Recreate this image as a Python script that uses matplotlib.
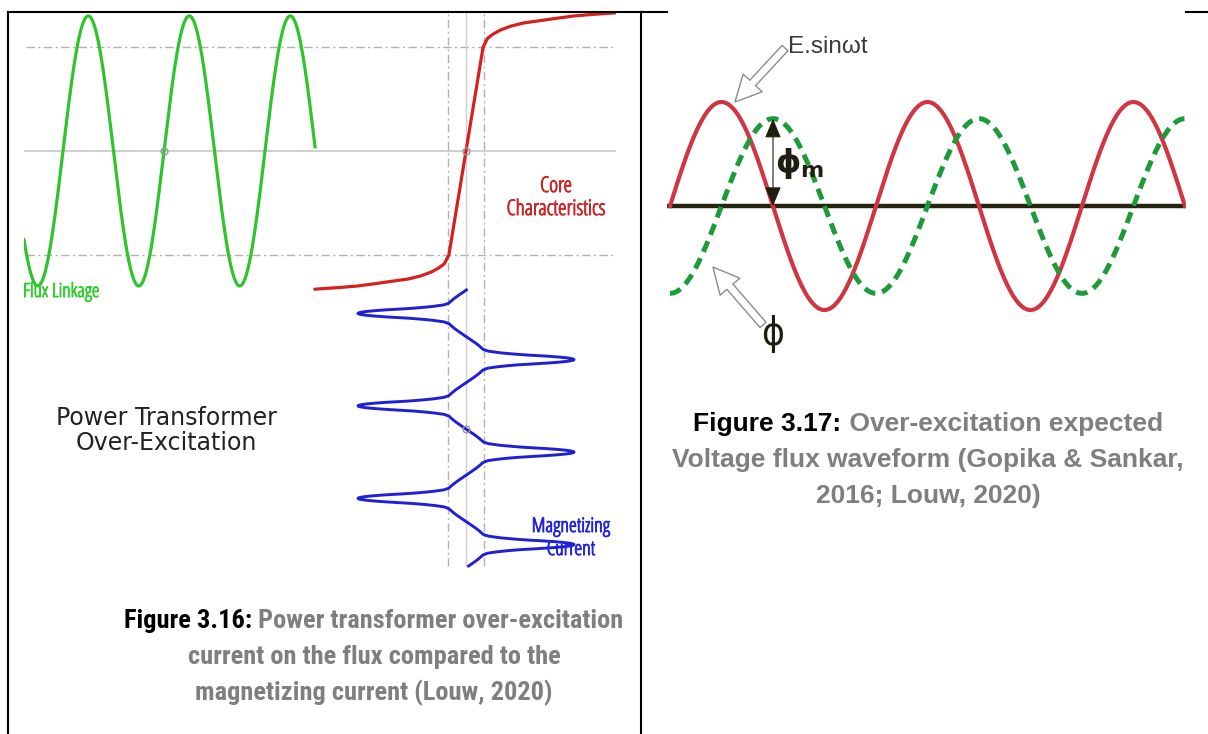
import numpy as np
import matplotlib
matplotlib.use("Agg")
import matplotlib.pyplot as plt
from matplotlib import transforms as mtransforms
from matplotlib import patheffects
from matplotlib.lines import Line2D
from matplotlib.patches import FancyArrowPatch

W, H = 1208, 734

# ---- Figure 3.16: flux linkage, core characteristic, magnetizing current ----
# positive branch of the core characteristic (current in knee units, flux in p.u.)
core_current = [0.0, 0.95, 1.2, 1.5, 1.9, 2.5, 3.2, 4.0, 5.0, 6.0, 7.0, 8.4]
core_flux = [0.0, 0.77, 0.835, 0.865, 0.895, 0.925, 0.948, 0.963, 0.982, 1.0, 1.011, 1.024]
flux_peak = 1.0
knee_flux = 0.77
knee_current = 1.0
flux_window = [-1.386, 1.495]      # cycles of flux linkage shown
current_window = [-1.503, 1.481]   # cycles of magnetizing current shown

# ---- Figure 3.17: voltage and flux waveforms ----
voltage_peak = 1.0
phi_peak = 0.84
half_cycles = 5

caption_316 = ["current on the flux compared to the", "magnetizing current (Louw, 2020)"]
caption_317 = ["Voltage flux waveform (Gopika & Sankar,", "2016; Louw, 2020)"]


def px_rect(x0, y0, x1, y1):
    return [x0 / W, 1 - y1 / H, (x1 - x0) / W, (y1 - y0) / H]


fig = plt.figure(figsize=(W / 100, H / 100), dpi=100)
px = mtransforms.Affine2D().scale(1 / W, -1 / H).translate(0, 1) + fig.transFigure


def label(x, y, s, color, size=15.5, ha="center"):
    # very narrow schematic labels
    fig.text(x, y, s, transform=px, family="Open Sans", stretch="condensed",
             weight="light", fontsize=size, color=color, ha=ha, va="baseline",
             path_effects=[patheffects.withStroke(linewidth=0.7, foreground=color)])


# table borders
for xs, ys in [((8, 8), (12, 734)), ((641, 641), (12, 734)),
               ((8, 667), (12, 12)), ((1186, 1208), (12, 12))]:
    fig.add_artist(Line2D(xs, ys, transform=px, color="black", lw=1.5, zorder=5))

# ---------------- left panel ----------------
rect = px_rect(24, 10, 616, 568)
ax_core = fig.add_axes(rect, label="core")
ax_flux = fig.add_axes(rect, label="flux", sharey=ax_core)
ax_mag = fig.add_axes(rect, label="mag", sharex=ax_core)
for a in (ax_core, ax_flux, ax_mag):
    a.set_axis_off()
    a.patch.set_visible(False)

ax_core.set_xlim(-24.556, 8.333)
ax_core.set_ylim(-3.089, 1.044)
ax_flux.set_xlim(-1.386, 4.475)
ax_mag.set_ylim(1.503, -4.530)

guide = dict(color="#b2b2b2", lw=1.0, ls=(0, (6, 2.5, 1.5, 2.5)))
ax_core.axhline(0, xmin=0.0, color="#cfcfcf", lw=1.4)
for f in (knee_flux, -knee_flux):
    ax_core.axhline(f, xmin=0.004, **guide)
for c in (knee_current, -knee_current):
    ax_core.axvline(c, ymin=0.004, **guide)
ax_core.axvline(0, ymin=0.004, color="#cfcfcf", lw=1.0)

cur = np.array(core_current)
fl = np.array(core_flux)
branch_i = np.concatenate([-cur[::-1], cur[1:]])
branch_f = np.concatenate([-fl[::-1], fl[1:]])
ax_core.plot(branch_i, branch_f, color="#d81f1f", lw=2.3, solid_capstyle="round")

t = np.linspace(flux_window[0], flux_window[1], 800)
ax_flux.plot(t, flux_peak * np.sin(2 * np.pi * t), color="#2ec42e", lw=2.3)

# magnetizing current: flux linkage mapped through the core characteristic
tm = np.linspace(current_window[0], current_window[1], 3000)
i_mag = np.interp(flux_peak * np.sin(2 * np.pi * tm), branch_f, branch_i)
ax_mag.plot(i_mag, tm, color="#1f1fd8", lw=2.1)

ring = dict(marker="o", ms=5, mfc="none", mec="#9a9a9a", mew=1.0)
ax_flux.plot([0], [0], **ring)
ax_core.plot([0], [0], **ring)
ax_mag.plot([0], [0], **ring)

label(23, 297, "Flux Linkage", "#33cc33", size=14, ha="left")
label(556, 192, "Core", "#c82828")
label(556, 215, "Characteristics", "#c82828")
label(571, 532, "Magnetizing", "#2424dd", size=14.5)
label(571, 555, "Current", "#2424dd", size=14.5)
fig.text(166, 418, "Power Transformer", transform=px, fontsize=17,
         color="#222222", ha="center", va="center")
fig.text(166, 443, "Over-Excitation", transform=px, fontsize=17,
         color="#222222", ha="center", va="center")

# ---------------- right panel ----------------
ax_r = fig.add_axes(px_rect(667, 10, 1186, 360), label="wave")
ax_r.set_axis_off()
ax_r.set_xlim(-0.029 * np.pi, 5.01 * np.pi)
ax_r.set_ylim(-1.481, 1.885)

wt = np.linspace(0, half_cycles * np.pi, 1000)
ax_r.axhline(0, color="#26240f", lw=3.2, zorder=1)
ax_r.plot(wt, voltage_peak * np.sin(wt), color="#d03543", lw=3.0, zorder=2)
ax_r.plot(wt, -phi_peak * np.cos(wt), color="#1d9a3a", lw=3.6,
          dashes=(2.3, 1.4), dash_capstyle="butt", zorder=3)

ax_r.annotate("", xy=(np.pi, phi_peak), xytext=(np.pi, 0.0),
              arrowprops=dict(arrowstyle="<|-|>,head_length=1.2,head_width=0.5",
                              color="#1e1e10", lw=0.8, shrinkA=0, shrinkB=0),
              zorder=4)
ax_r.text(1.019 * np.pi, 0.41, "$\\mathbf{\u03d5_m}$", fontsize=23,
          color="#1e1e10", ha="left", va="center", zorder=4)

hollow = dict(arrowstyle="simple,head_length=0.72,head_width=0.72,tail_width=0.22",
              mutation_scale=26, fc="white", ec="#8c8c8c", lw=1.0,
              shrinkA=0, shrinkB=0, zorder=5, transform=ax_r.transData)
ax_r.add_patch(FancyArrowPatch((1.117 * np.pi, 1.519), (0.631 * np.pi, 1.0), **hollow))
ax_r.add_patch(FancyArrowPatch((0.903 * np.pi, -1.144), (0.417 * np.pi, -0.587), **hollow))

ax_r.text(1.146 * np.pi, 1.471, "E.sin\u03c9t", family="Liberation Sans",
          fontsize=17.5, color="#3a3a3a", ha="left", va="baseline")
fig.text(773, 334, "\u03d5", transform=px, family="DejaVu Sans", stretch="condensed",
         fontsize=28, color="#1e1e10", ha="center", va="center")

# ---------------- captions ----------------
renderer = fig.canvas.get_renderer()


def caption_line(xc, y, head, rest, family):
    a = fig.text(0, y, head, transform=px, family=family,
                 fontsize=19, weight="bold", color="black", ha="left", va="center")
    b = fig.text(0, y, rest, transform=px, family=family,
                 fontsize=19, weight="bold", color="#7f7f7f", ha="left", va="center")
    wa = a.get_window_extent(renderer).width
    wb = b.get_window_extent(renderer).width
    x0 = xc - (wa + wb) / 2
    a.set_x(x0)
    b.set_x(x0 + wa)


caption_line(374, 621, "Figure 3.16:", " Power transformer over-excitation",
             "Roboto Condensed")
for k, line in enumerate(caption_316):
    fig.text(374, 657 + 35.5 * k, line, transform=px, family="Roboto Condensed",
             fontsize=19, weight="bold", color="#7f7f7f", ha="center", va="center")

caption_line(928, 424, "Figure 3.17:", " Over-excitation expected", "Liberation Sans")
for k, line in enumerate(caption_317):
    fig.text(928, 460 + 35.5 * k, line, transform=px, family="Liberation Sans",
             fontsize=19, weight="bold", color="#7f7f7f", ha="center", va="center")

fig.savefig("out.png", dpi=100)
